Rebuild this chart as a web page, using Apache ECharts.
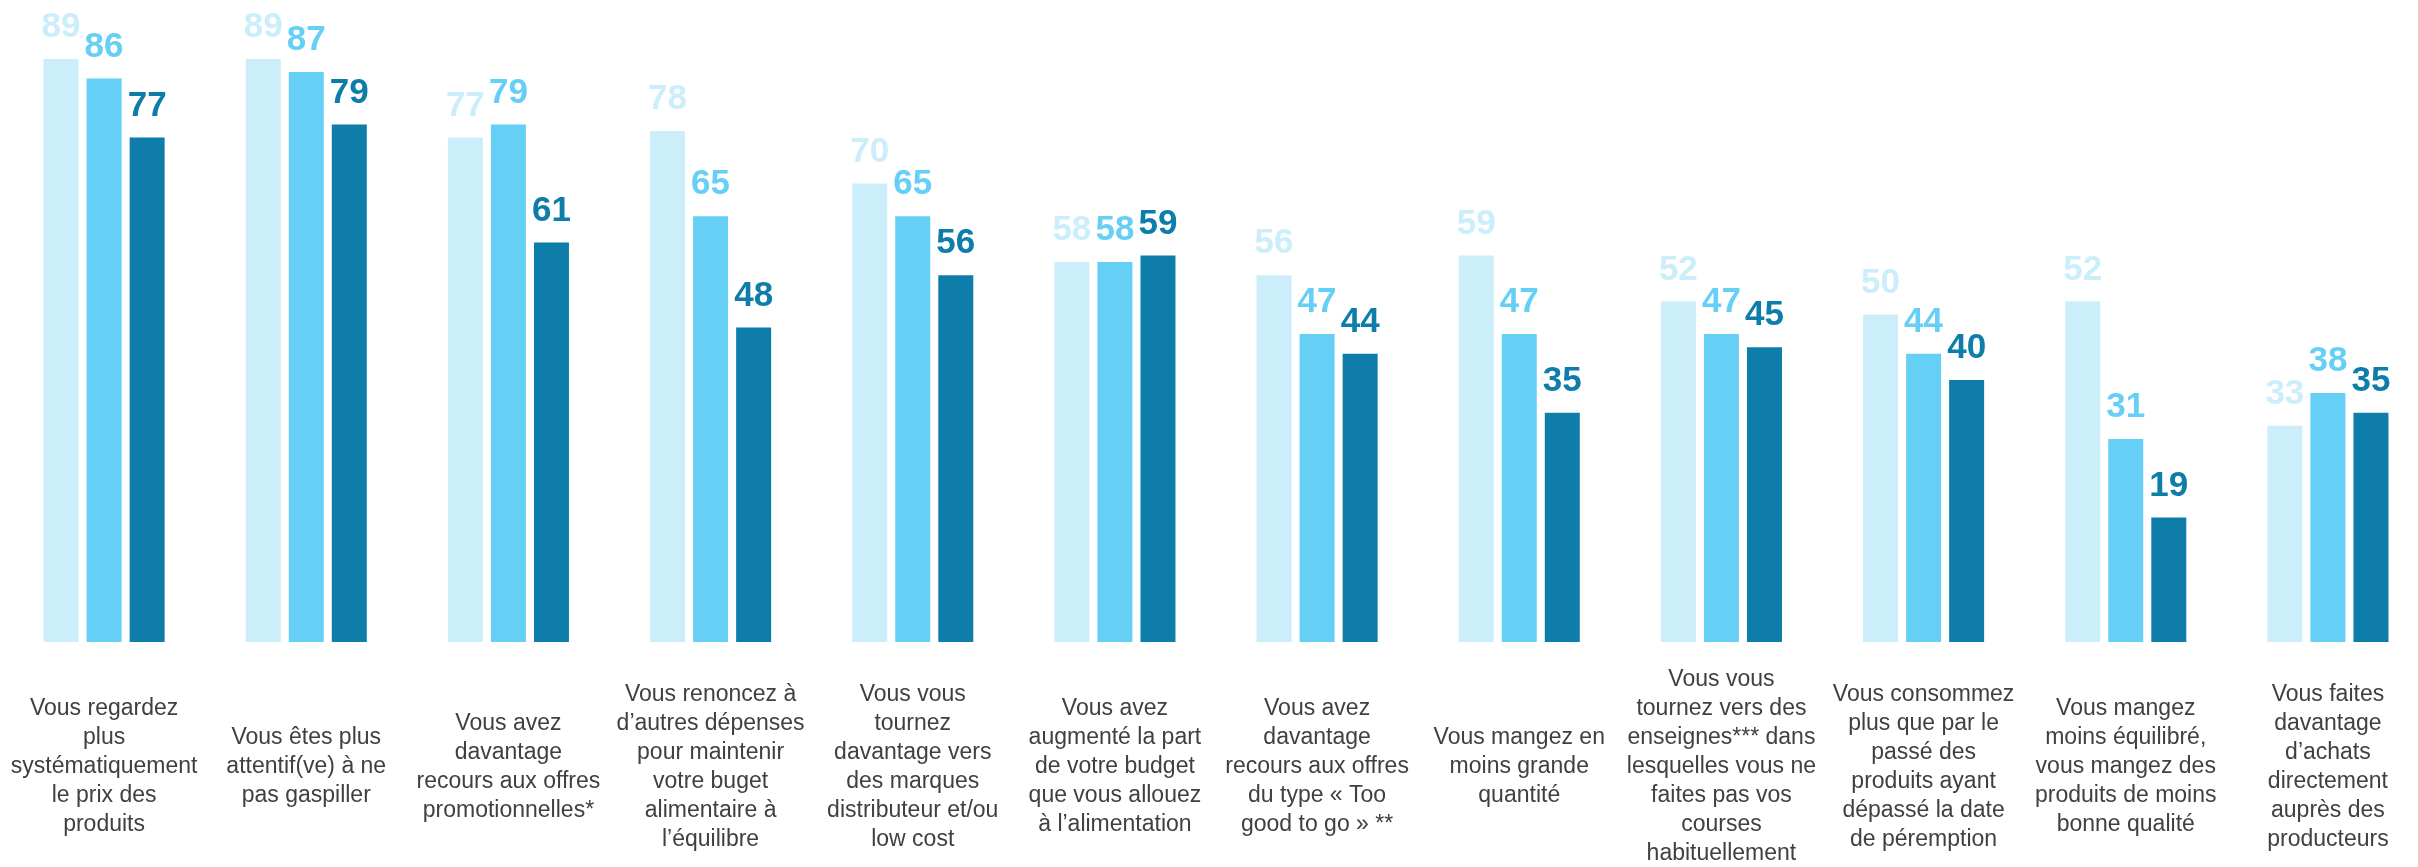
<!DOCTYPE html>
<html>
<head>
<meta charset="utf-8">
<script src="https://cdn.jsdelivr.net/npm/echarts@6/dist/echarts.min.js"></script>
<style>
  html, body { margin: 0; padding: 0; background: #fff; }
  #chart { width: 2418px; height: 867px; }
</style>
</head>
<body>
<div id="chart"></div>
<script>
// categories (line breaks as in the reference)
var categories = [
  "Vous regardez\nplus\nsystématiquement\nle prix des\nproduits",
  "Vous êtes plus\nattentif(ve) à ne\npas gaspiller",
  "Vous avez\ndavantage\nrecours aux offres\npromotionnelles*",
  "Vous renoncez à\nd’autres dépenses\npour maintenir\nvotre buget\nalimentaire à\nl’équilibre",
  "Vous vous\ntournez\ndavantage vers\ndes marques\ndistributeur et/ou\nlow cost",
  "Vous avez\naugmenté la part\nde votre budget\nque vous allouez\nà l’alimentation",
  "Vous avez\ndavantage\nrecours aux offres\ndu type « Too\ngood to go » **",
  "Vous mangez en\nmoins grande\nquantité",
  "Vous vous\ntournez vers des\nenseignes*** dans\nlesquelles vous ne\nfaites pas vos\ncourses\nhabituellement",
  "Vous consommez\nplus que par le\npassé des\nproduits ayant\ndépassé la date\nde péremption",
  "Vous mangez\nmoins équilibré,\nvous mangez des\nproduits de moins\nbonne qualité",
  "Vous faites\ndavantage\nd’achats\ndirectement\nauprès des\nproducteurs"
];

// series values
var serie1 = [89, 89, 77, 78, 70, 58, 56, 59, 52, 50, 52, 33];
var serie2 = [86, 87, 79, 65, 65, 58, 47, 47, 47, 44, 31, 38];
var serie3 = [77, 79, 61, 48, 56, 59, 44, 35, 45, 40, 19, 35];

var COLORS = ["#CCEEFA", "#66CFF5", "#0E7DAA"];

function makeSeries(data, color) {
  return {
    type: "bar",
    data: data,
    barWidth: 35,
    barGap: "23%",
    itemStyle: { color: color },
    label: {
      show: true,
      position: "top",
      distance: 14,
      color: color,
      fontFamily: "Liberation Sans",
      fontWeight: "bold",
      fontSize: 35
    }
  };
}

var chart = echarts.init(document.getElementById("chart"));
chart.setOption({
  animation: false,
  grid: { left: 3, width: 2426, top: 0, bottom: 225, outerBoundsMode: "none", containLabel: false },
  xAxis: {
    type: "category",
    data: categories,
    axisLine: { show: false },
    axisTick: { show: false },
    axisLabel: {
      interval: 0,
      margin: 125,
      verticalAlign: "middle",
      color: "#404040",
      fontFamily: "Liberation Sans",
      fontSize: 23,
      lineHeight: 29
    }
  },
  yAxis: {
    type: "value",
    min: 0,
    max: 98,
    show: false,
    splitLine: { show: false }
  },
  series: [
    makeSeries(serie1, COLORS[0]),
    makeSeries(serie2, COLORS[1]),
    makeSeries(serie3, COLORS[2])
  ]
});
</script>
</body>
</html>
